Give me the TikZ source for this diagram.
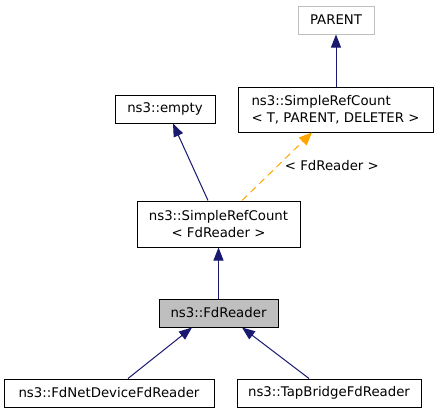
\documentclass[tikz,border=0pt]{standalone}
\usepackage{fontspec}
\setmainfont{DejaVu Sans}
\usetikzlibrary{arrows.meta}
\definecolor{edgeblue}{HTML}{191970}
\definecolor{boxgray}{HTML}{BFBFBF}
\definecolor{tplorange}{HTML}{FFA500}
\tikzset{
  cls/.style={draw=black, line width=1pt, inner sep=0pt, align=center, font=\fontsize{13.3}{16.7}\selectfont},
  inh/.style={draw=edgeblue, line width=1pt, -{Triangle[length=13pt,width=10pt]}},
  tpl/.style={draw=tplorange, line width=1pt, dash pattern=on 7pt off 5pt, -{Triangle[length=13pt,width=11pt]}},
  lbl/.style={inner sep=0pt, font=\fontsize{13.3}{16.7}\selectfont}
}
\begin{document}
\begin{tikzpicture}[x=1pt,y=-1pt]
\useasboundingbox (0,0) rectangle (439,413);
\node[cls, draw=boxgray, minimum width=76pt, minimum height=28pt] (parent) at (336,20) {PARENT};
\node[cls, align=left, minimum width=195pt, minimum height=45pt] (srcT) at (335.5,109.5) {ns3::SimpleRefCount\\< T, PARENT, DELETER >};
\node[cls, minimum width=100pt, minimum height=28pt] (empty) at (165,109) {ns3::empty};
\node[cls, minimum width=163pt, minimum height=46pt] (srcFd) at (218.5,224) {ns3::SimpleRefCount\\< FdReader >};
\node[cls, fill=boxgray, minimum width=119pt, minimum height=28pt] (fd) at (218.5,313) {ns3::FdReader};
\node[cls, minimum width=210pt, minimum height=28pt] (fdnet) at (109,393) {ns3::FdNetDeviceFdReader};
\node[cls, minimum width=184pt, minimum height=28pt] (tap) at (329,393) {ns3::TapBridgeFdReader};
\draw[inh] (srcT.north -| parent.south) -- (parent.south);
\draw[inh] ([xshift=-10.5pt]srcFd.north) -- ([xshift=8pt]empty.south);
\draw[tpl] ([xshift=23.5pt]srcFd.north) -- node[lbl, pos=0.52, right=6pt] {< FdReader >} ([xshift=-23.5pt]srcT.south);
\draw[inh] (fd.north) -- (srcFd.south);
\draw[inh] ([xshift=19pt]fdnet.north) -- ([xshift=-26.5pt]fd.south);
\draw[inh] ([xshift=-20pt]tap.north) -- ([xshift=23.5pt]fd.south);
\end{tikzpicture}
\end{document}
